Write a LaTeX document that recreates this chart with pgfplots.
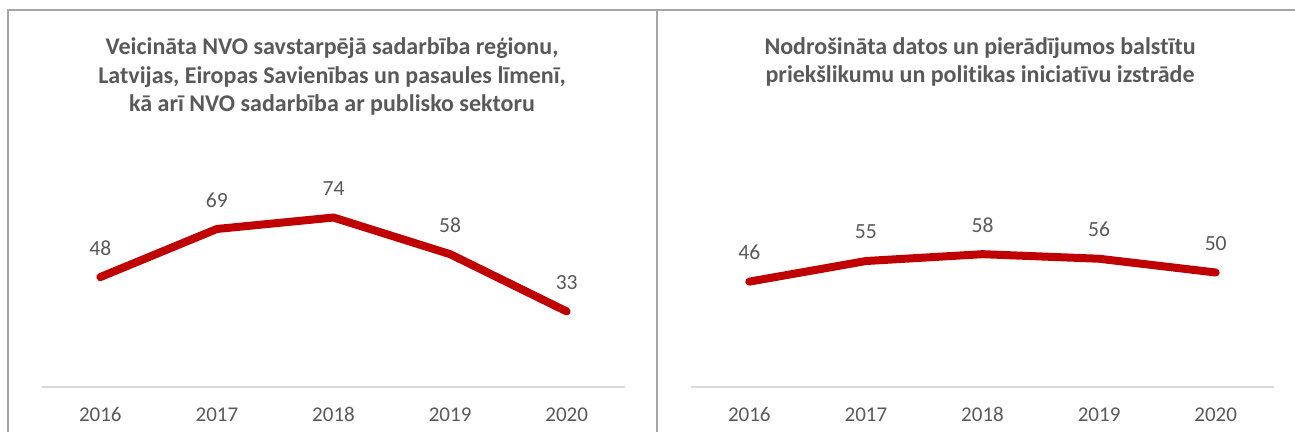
\documentclass[border=0pt]{standalone}
\usepackage{pgfplots}
\pgfplotsset{compat=1.18}
\usepackage{fontspec}
\setmainfont{Carlito}[Ligatures=NoCommon]
\definecolor{framegray}{HTML}{A6A6A6}
\definecolor{axisgray}{HTML}{D9D9D9}
\definecolor{txt}{HTML}{595959}
\definecolor{linered}{HTML}{C00000}
\pgfplotsset{
  panel/.style={
    scale only axis, width=291.5pt, height=91.6pt,
    xmin=-0.5, xmax=4.5, ymin=0, ymax=80,
    axis y line=none, axis x line*=bottom,
    x axis line style={axisgray, line width=0.9pt, -},
    xtick={0,1,2,3,4}, xticklabels={2016,2017,2018,2019,2020},
    major tick length=0pt,
    tick label style={txt, font=\fontsize{10.5}{12}\selectfont},
    xticklabel style={anchor=north, inner sep=0pt, yshift=-10pt},
    /pgf/number format/assume math mode=true,
    clip=false,
    nodes near coords,
    every node near coord/.append style={txt, font=\fontsize{10.8}{12}\selectfont, anchor=center, inner sep=0pt, yshift=14.5pt},
  }
}
\begin{document}
\begin{tikzpicture}[x=0.5pt,y=0.5pt]
\path[use as bounding box] (0,0) rectangle (1295,432);
\draw[framegray, line width=1pt] (8,0) -- (8,422) -- (1295,422);
\draw[framegray, line width=1pt] (657,0) -- (657,422);
\node[txt, font=\bfseries\fontsize{12}{14.25}\selectfont, align=center] at (332,355.5)
  {Veicināta NVO savstarpējā sadarbība reģionu,\\Latvijas, Eiropas Savienības un pasaules līmenī,\\kā arī NVO sadarbība ar publisko sektoru};
\node[txt, font=\bfseries\fontsize{12}{14.25}\selectfont, align=center] at (980,370)
  {Nodrošināta datos un pierādījumos balstītu\\priekšlikumu un politikas iniciatīvu izstrāde};
\begin{axis}[panel, at={(21pt,22.5pt)}, anchor=south west]
\addplot[linered, line width=4pt, line cap=round, line join=round, mark=none] coordinates {(0,48) (1,69) (2,74) (3,58) (4,33)};
\end{axis}
\begin{axis}[panel, at={(345.5pt,22.5pt)}, anchor=south west]
\addplot[linered, line width=4pt, line cap=round, line join=round, mark=none] coordinates {(0,46) (1,55) (2,58) (3,56) (4,50)};
\end{axis}
\end{tikzpicture}
\end{document}
